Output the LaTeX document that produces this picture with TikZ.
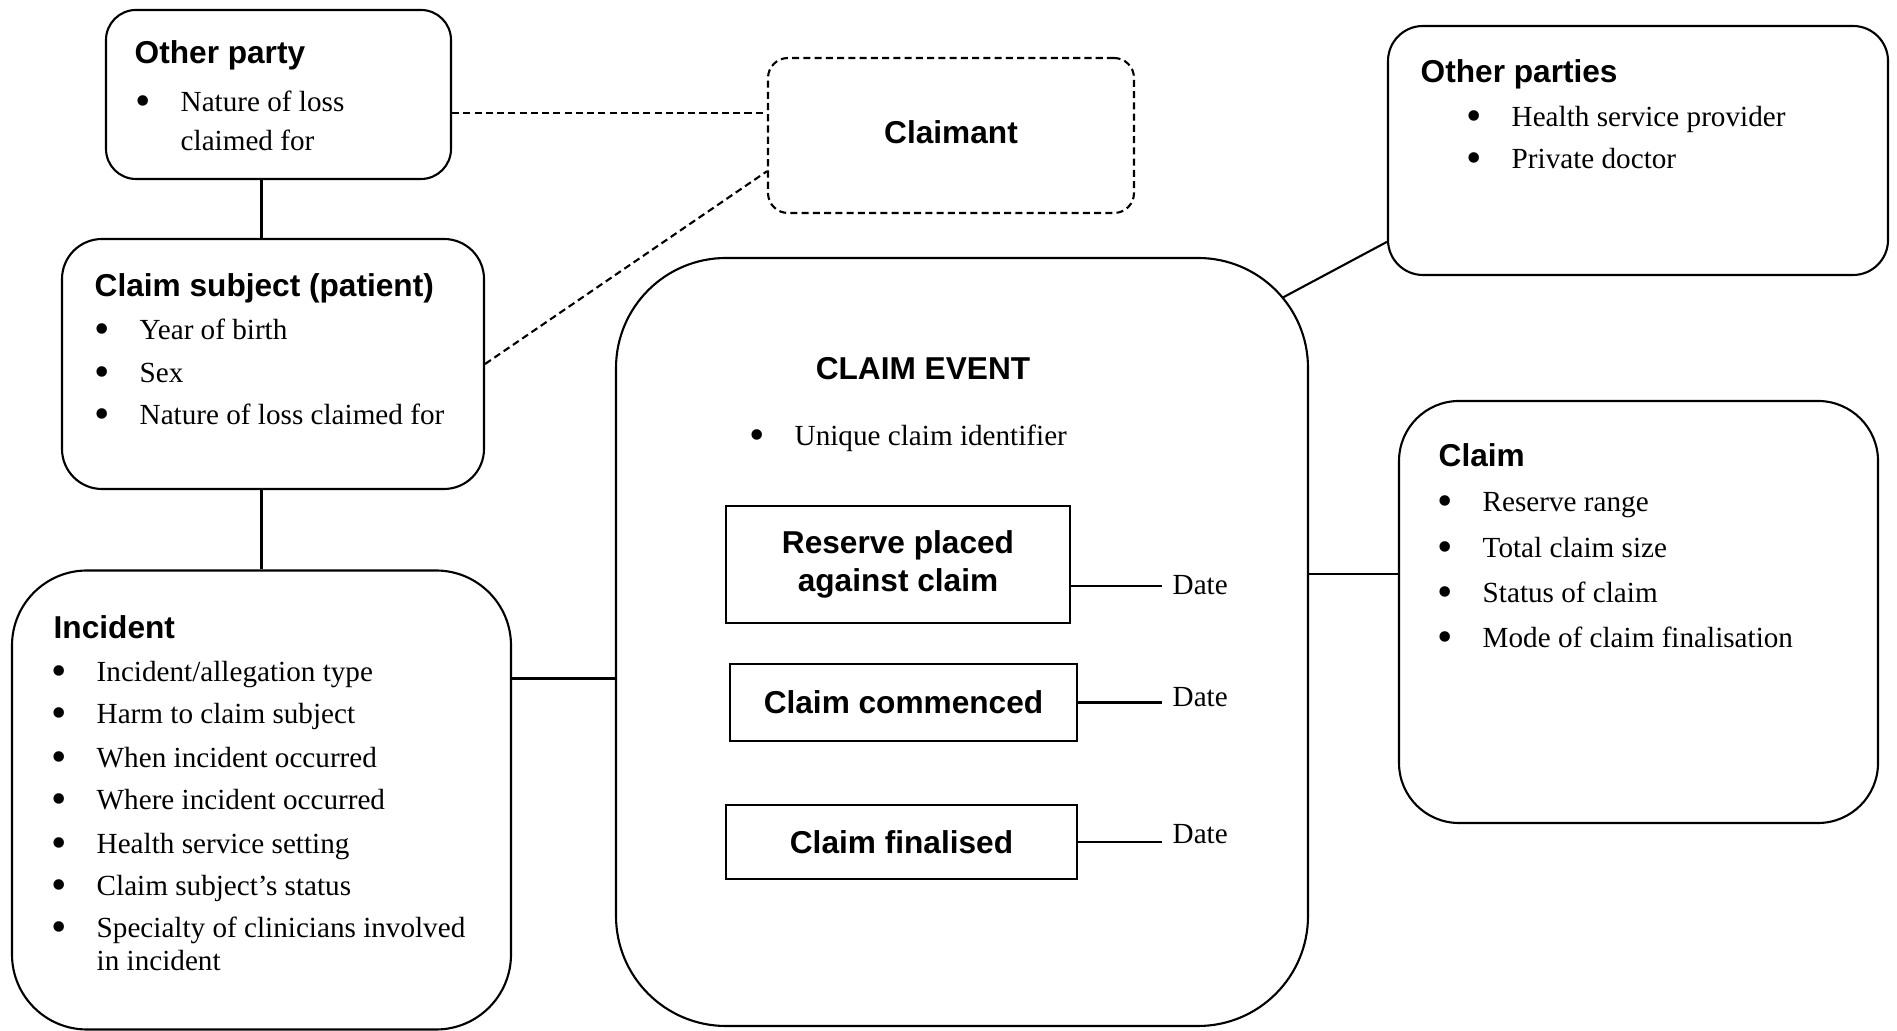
\documentclass[tikz,border=0pt]{standalone}
\usepackage{fontspec}
\setmainfont{Liberation Serif}
\newfontfamily\headfont{Liberation Sans}
\newcommand{\dotitem}{\makebox[0.41cm][l]{\hspace{-0.04cm}\raisebox{-1.3pt}{\fontsize{12.5}{12}\selectfont\textbullet}}}
\begin{document}
\begin{tikzpicture}[
    box/.style={draw, line width=0.6pt, rounded corners=#1, inner sep=0},
    stage/.style={draw, line width=0.6pt, inner sep=0, align=center,
      font=\headfont\fontsize{9}{10.6}\selectfont\bfseries},
    ttl/.style={anchor=mid west, inner sep=0, font=\headfont\fontsize{9}{11}\selectfont\bfseries},
    itm/.style={anchor=mid west, inner sep=0, font=\fontsize{8.3}{10}\selectfont},
    link/.style={line width=0.6pt},
    dlink/.style={line width=0.6pt, dash pattern=on 2pt off 1.2pt}
  ]
  \useasboundingbox (0,0) rectangle (18.97,10.31);

  % boxes
  \node[box=0.3cm, minimum width=3.45cm, minimum height=1.69cm] (oparty) at (2.785,9.365) {};
  \node[box=0.2cm, dlink, minimum width=3.66cm, minimum height=1.55cm,
    font=\headfont\fontsize{9}{11}\selectfont\bfseries] (claimant) at (9.51,8.955) {\raisebox{0.07cm}{Claimant}};
  \node[box=0.4cm, minimum width=4.22cm, minimum height=2.50cm] (subj) at (2.73,6.67) {};
  \node[box=0.75cm, minimum width=4.99cm, minimum height=4.59cm] (inc) at (2.615,2.31) {};
  \node[box=1.1cm, minimum width=6.92cm, minimum height=7.68cm] (event) at (9.62,3.89) {};
  \node[box=0.35cm, minimum width=5.00cm, minimum height=2.49cm] (oparties) at (16.38,8.805) {};
  \node[box=0.6cm, minimum width=4.79cm, minimum height=4.22cm] (claim) at (16.385,4.19) {};

  % stages inside the claim event
  \node[stage, minimum width=3.44cm, minimum height=1.17cm] (reserve) at (8.98,4.665) {Reserve placed\\against claim};
  \node[stage, minimum width=3.47cm, minimum height=0.77cm] (commenced) at (9.035,3.285) {Claim commenced};
  \node[stage, minimum width=3.51cm, minimum height=0.74cm] (finalised) at (9.015,1.89) {Claim finalised};

  % titles
  \node[ttl] (oparty-t) at (1.34,9.76) {Other party};
  \node[ttl] (subj-t) at (0.94,7.43) {Claim subject (patient)};
  \node[ttl] (inc-t) at (0.53,4.01) {Incident};
  \node[ttl, anchor=mid] (event-t) at (9.23,6.60) {CLAIM EVENT};
  \node[ttl] (oparties-t) at (14.20,9.57) {Other parties};
  \node[ttl] (claim-t) at (14.38,5.73) {Claim};

  % items
  \node[itm] (oparty-1) at (1.39,9.28) {\dotitem Nature of loss};
  \node[itm] (oparty-2) at (1.80,8.89) {claimed for};
  \foreach \y/\t [count=\i] in {7.00/Year of birth, 6.57/Sex, 6.15/Nature of loss claimed for}
    \node[itm] (subj-\i) at (0.98,\y) {\dotitem\t};
  \foreach \y/\t [count=\i] in {3.58/{Incident/allegation type}, 3.16/Harm to claim subject,
      2.72/When incident occurred, 2.30/Where incident occurred, 1.86/Health service setting,
      1.44/Claim subject’s status, 1.02/Specialty of clinicians involved}
    \node[itm] (inc-\i) at (0.55,\y) {\dotitem\t};
  \node[itm] (inc-8) at (0.96,0.69) {in incident};
  \node[itm] (event-1) at (7.53,5.94) {\dotitem Unique claim identifier};
  \foreach \y/\t [count=\i] in {9.13/Health service provider, 8.71/Private doctor}
    \node[itm] (oparties-\i) at (14.70,\y) {\dotitem\t};
  \foreach \y/\t [count=\i] in {5.28/Reserve range, 4.82/Total claim size,
      4.37/Status of claim, 3.92/Mode of claim finalisation}
    \node[itm] (claim-\i) at (14.41,\y) {\dotitem\t};

  % dates
  \node[itm, inner sep=1mm] (date1) at (11.62,4.45) {Date};
  \node[itm, inner sep=1mm] (date2) at (11.62,3.33) {Date};
  \node[itm, inner sep=1mm] (date3) at (11.62,1.96) {Date};
  \draw[link] (reserve.353) -- (reserve.353 -| date1.west);
  \draw[link] (commenced.east) -- (commenced.east -| date2.west);
  \draw[link] (finalised.east) -- (finalised.east -| date3.west);

  % links between boxes
  \draw[dlink] (oparty.east |- claimant.173) -- (claimant.173);
  \draw[dlink] (subj.east) -- (claimant.191);
  \draw[link] (oparty.south -| inc.north) -- (subj.north -| inc.north);
  \draw[link] (subj.south -| inc.north) -- (inc.north);
  \draw[link] (event.186 -| inc.east) -- (event.186);
  \draw[link] (claim.171.5 -| event.east) -- (claim.171.5);
  \coordinate (evcorner) at ([shift={(-0.27,-0.41)}]event.north east);
  \draw[link] (evcorner) -- (oparties.200);
\end{tikzpicture}
\end{document}
